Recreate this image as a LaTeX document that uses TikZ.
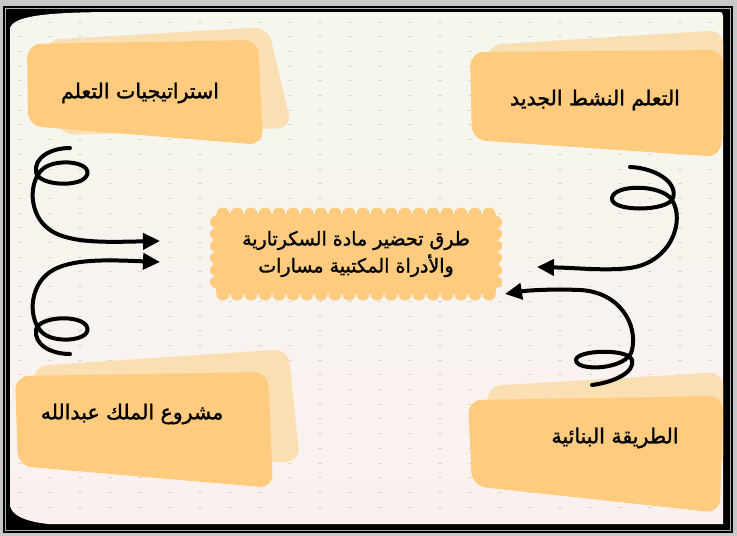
\documentclass[tikz,border=0pt]{standalone}
\usepackage{fontspec}
\newfontfamily\arabicfont[Script=Arabic, RawFeature={embolden=1.6}]{DejaVu Sans}
\TeXXeTstate=1
\usetikzlibrary{arrows.meta}
\definecolor{bgray}{HTML}{C8C8C8}
\definecolor{boxc}{HTML}{FFCB7E}
\definecolor{shadc}{HTML}{FADFB3}
\definecolor{dotc}{HTML}{DAD7D0}
\definecolor{pageT}{HTML}{F5F6EE}
\definecolor{pageM}{HTML}{FBF8E8}
\definecolor{pageB}{HTML}{FAF1EF}
\tikzset{
  lbl/.style={font=\arabicfont\fontsize{20.5}{28}\selectfont, inner sep=0pt},
  midlbl/.style={font=\arabicfont\fontsize{19}{27}\selectfont, inner sep=0pt},
  curly/.style={line width=4pt, line cap=round, -{Triangle[length=17pt,width=16pt]}},
  blob/.style={fill=boxc, rounded corners=14pt},
  blobshadow/.style={fill=shadc, rounded corners=14pt}
}
\begin{document}
\begin{tikzpicture}[x=1pt,y=-1pt]
    \useasboundingbox (0,0) rectangle (737,536);
    % frame
    \fill[bgray] (0,0) rectangle (737,536);
    \fill[black] (3,6) rectangle (733,533);
    \draw[gray!60, line width=0.8pt] (5.5,8.5) rectangle (730.5,530.5);
    \shade[top color=pageT, middle color=pageM, bottom color=pageB]
        (10,28) .. controls (14,16) and (45,12) .. (120,12) -- (719,12)
        .. controls (722,12) .. (723,16) -- (723,524) -- (48,524)
        .. controls (22,521) and (10,514) .. (10,504) -- cycle;
    % dotted grid
    \foreach \x in {20,50,...,710}
        \foreach \y in {22,36.7,...,520}
            \draw[dotc, line width=0.9pt] (\x-1.6,\y) -- (\x+1.6,\y);
    % boxes
    \fill[blobshadow] (45,40) -- (268,27) -- (292,128) -- (60,135) -- cycle;
    \fill[blob] (27,44) -- (258,40) -- (263,145) -- (28,126) -- cycle;
    \fill[blobshadow] (487,45) -- (723,30) -- (723,150) -- (490,140) -- cycle;
    \fill[blob] (470,52) -- (723,50) -- (721,157) -- (472,140) -- cycle;
    \fill[blobshadow] (33,366) -- (288,349) -- (300,462) -- (40,460) -- cycle;
    \fill[blob] (15,376) -- (268,372) -- (273,488) -- (18,466) -- cycle;
    \fill[blobshadow] (487,386) -- (723,372) -- (723,470) -- (490,470) -- cycle;
    \fill[blob] (468,400) -- (723,396) -- (720,513) -- (472,486) -- cycle;
    % centre box with wavy edge
    \fill[boxc] (216,214) rectangle (496,294);
    \foreach \x in {223,237,...,490} {
        \fill[boxc] (\x,214) circle (6.5);
        \fill[boxc] (\x,294) circle (6.5);
    }
    \foreach \y in {222,234,...,288} {
        \fill[boxc] (216,\y) circle (6);
        \fill[boxc] (496,\y) circle (6);
    }
    % texts
    \node[lbl] (strat) at (140,93) {\beginR استراتيجيات التعلم\endR};
    \node[lbl] (active) at (595,100) {\beginR التعلم النشط الجديد\endR};
    \node[lbl] (king) at (132,414) {\beginR مشروع الملك عبدالله\endR};
    \node[lbl] (constr) at (615,438) {\beginR الطريقة البنائية\endR};
    \node[midlbl, align=center] (prep) at (356,254)
        {\beginR طرق تحضير مادة السكرتارية\endR\\\beginR والأدراة المكتبية مسارات\endR};
    % curly arrows
    \coordinate (s1) at (70,148);  \coordinate (e1) at (160,241);
    \coordinate (s2) at (70,354);  \coordinate (e2) at (160,262);
    \coordinate (s3) at (630,167); \coordinate (e3) at (537,267);
    \coordinate (s4) at (592,385); \coordinate (e4) at (505,294);
    \draw[curly] (s1) .. controls (50,148) and (34,158) .. (36,172)
        .. controls (38,186) and (82,188) .. (87,175)
        .. controls (92,162) and (58,158) .. (44,168)
        .. controls (28,180) and (28,215) .. (50,230)
        .. controls (70,244) and (110,242) .. (e1);
    \draw[curly] (s2) .. controls (50,354) and (34,344) .. (36,330)
        .. controls (38,316) and (82,314) .. (87,327)
        .. controls (92,340) and (58,344) .. (44,334)
        .. controls (28,322) and (28,287) .. (50,272)
        .. controls (70,258) and (110,260) .. (e2);
    \draw[curly] (s3) .. controls (655,168) and (678,182) .. (673,198)
        .. controls (668,212) and (610,212) .. (612,198)
        .. controls (614,184) and (662,184) .. (672,200)
        .. controls (685,220) and (672,262) .. (630,268)
        .. controls (605,271) and (580,268) .. (e3);
    \draw[curly] (s4) .. controls (615,382) and (635,372) .. (632,360)
        .. controls (628,348) and (576,350) .. (576,360)
        .. controls (576,372) and (628,370) .. (632,350)
        .. controls (638,325) and (620,292) .. (580,290)
        .. controls (555,289) and (530,290) .. (e4);
\end{tikzpicture}
\end{document}
